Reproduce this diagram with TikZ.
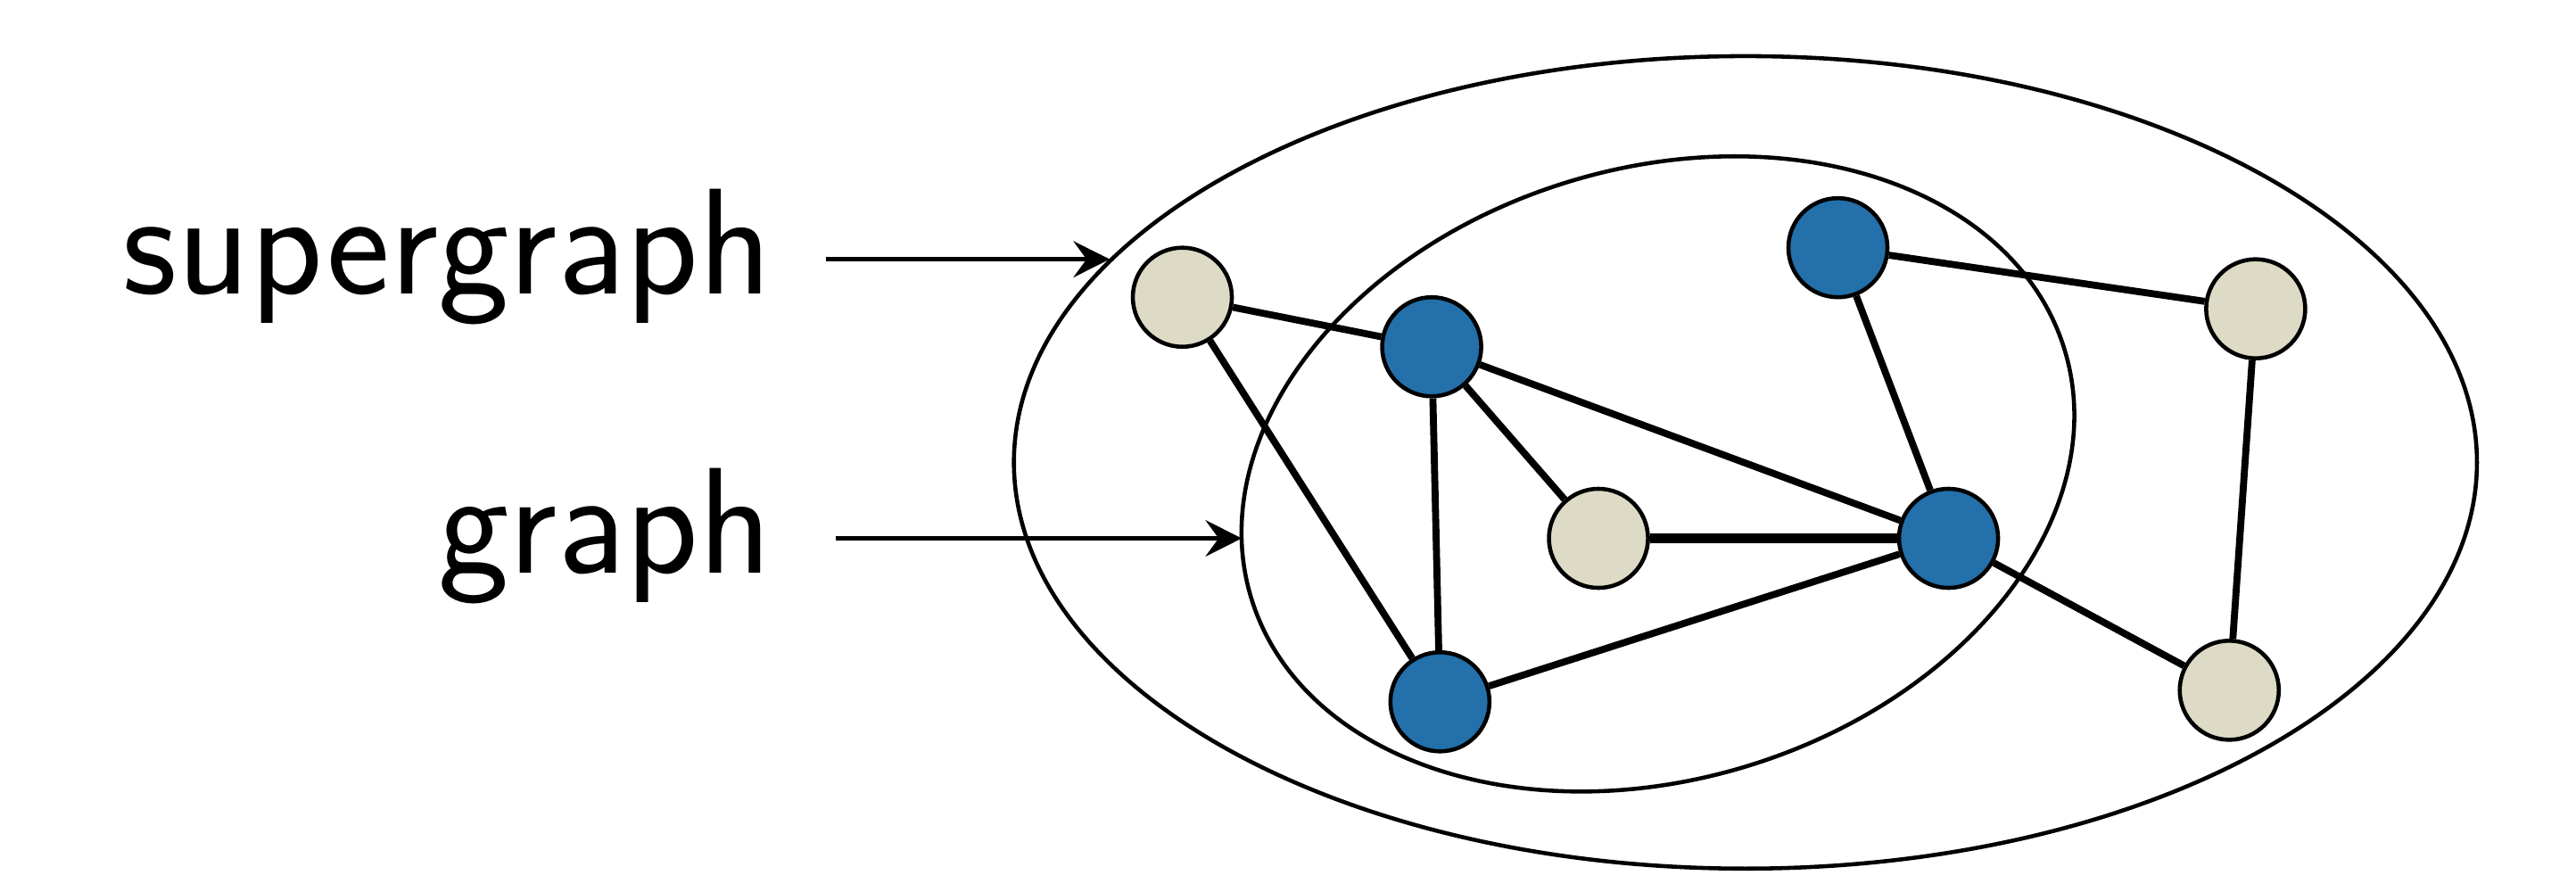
\documentclass[tikz,border=0pt]{standalone}
\usepackage{tikz}
\usetikzlibrary{arrows.meta}
\definecolor{vblue}{RGB}{35,112,170}
\definecolor{vbeige}{RGB}{221,218,197}

\begin{document}
\begin{tikzpicture}[
    vertex/.style={circle,draw=black,line width=0.7pt,minimum size=0.6cm,inner sep=0pt},
    inv/.style={vertex,fill=vblue},
    outv/.style={vertex,fill=vbeige},
    link/.style={line width=1.2pt},
    pointer/.style={-{Stealth[length=0.22cm,width=0.22cm,inset=0.08cm]},line width=0.7pt},
    lbl/.style={font=\sffamily\fontsize{26}{30}\selectfont,inner sep=0pt,anchor=base east}
  ]
    \useasboundingbox (0,0) rectangle (15.6,5.4);

    % Ellipses
    \draw[line width=0.7pt] (10.57,2.60) ellipse (4.43cm and 2.46cm);
    \draw[line width=0.7pt,rotate around={17:(10.04,2.53)}] (10.04,2.53) ellipse (2.575cm and 1.85cm);

    % Vertices
    \node[outv] (b1) at (7.16,3.60) {};
    \node[inv]  (a1) at (8.67,3.30) {};
    \node[inv]  (a2) at (11.13,3.90) {};
    \node[outv] (b2) at (13.66,3.53) {};
    \node[outv] (b3) at (9.68,2.14) {};
    \node[inv]  (a3) at (11.80,2.14) {};
    \node[inv]  (a4) at (8.72,1.15) {};
    \node[outv] (b4) at (13.50,1.22) {};

    % Edges
    \draw[link] (b1) -- (a1);
    \draw[link] (b1) -- (a4);
    \draw[link] (a1) -- (a4);
    \draw[link] (a1) -- (b3);
    \draw[link] (a1) -- (a3);
    \draw[link,line width=1.7pt] (b3) -- (a3);
    \draw[link] (a4) -- (a3);
    \draw[link] (a2) -- (a3);
    \draw[link] (a2) -- (b2);
    \draw[link] (b2) -- (b4);
    \draw[link] (a3) -- (b4);

    % Labels
    \node[lbl] (sup) at (4.68,3.62) {supergraph};
    \node[lbl] (gr) at (4.68,1.93) {graph};
    \coordinate (suptip) at (6.72,3.83);
    \coordinate (grtip) at (7.52,2.14);
    \coordinate (supstart) at (5.00,3.83);
    \coordinate (grstart) at (5.06,2.14);
    \draw[pointer] (supstart) -- (suptip);
    \draw[pointer] (grstart) -- (grtip);
\end{tikzpicture}
\end{document}
